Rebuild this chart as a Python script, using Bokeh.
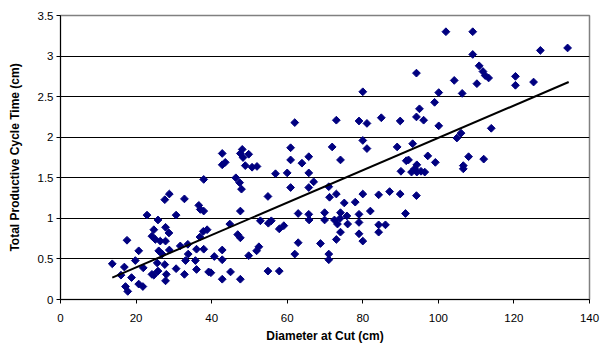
import math
from bokeh.plotting import figure
from bokeh.models import Range1d, FixedTicker, NumeralTickFormatter
from bokeh.embed import file_html
from bokeh.resources import INLINE

# Diameter at cut (cm)
diameter_cm = [
    13.7, 16.9, 17.6, 16.0, 17.2, 17.8, 18.8, 19.8, 20.7, 20.7, 21.8, 21.9,
    22.9, 24.2, 24.7, 25.8, 27.6, 28.8, 27.8, 28.7, 27.8, 26.4, 26.0, 26.9,
    28.8, 25.1, 25.6, 25.8, 27.6, 28.0, 27.8, 30.6, 30.6, 31.7, 24.2, 24.7,
    32.8, 33.7, 33.1, 32.8, 36.0, 35.7, 36.0, 37.9, 36.9, 37.8, 38.8, 37.9,
    36.6, 37.0, 37.9, 39.2, 39.8, 40.7, 33.8,
    42.8, 42.8, 43.6, 42.8, 42.8, 42.8, 44.8, 46.9, 47.6, 45.0, 47.6, 46.4,
    47.4, 47.9, 48.1, 47.6, 48.3, 49.8, 48.9, 50.7, 52.0, 47.6, 49.8, 51.9, 52.5,
    52.9, 54.9, 55.0, 55.8, 54.9, 57.9, 56.9, 57.9, 59.1, 60.0, 60.9, 60.9,
    60.9, 62.0, 62.9, 62.9, 62.0,
    63.9, 65.7, 65.7, 65.7, 67.0, 65.7, 65.8, 68.8, 69.9, 69.9, 71.0, 71.2,
    71.9, 71.0, 71.0,
    73.0, 74.1, 73.0, 75.1, 74.1, 72.5, 73.3, 74.0, 75.8, 76.0, 74.1, 73.0,
    78.0, 80.0, 79.0, 79.0, 79.0, 80.0, 82.0, 80.0, 79.0, 81.1, 80.0, 81.1,
    84.9, 89.9, 89.1, 90.1, 91.5, 84.2, 87.1, 89.9, 91.3, 84.2, 86.0, 84.2,
    102.0, 94.2, 100.1, 99.0, 95.0, 94.2, 96.1, 100.1, 93.2, 92.1, 94.3, 97.2,
    99.2, 92.9, 94.3, 95.4, 96.4, 93.7, 94.2,
    109.1, 109.1, 110.8, 111.8, 112.4, 113.3, 110.2, 104.2, 106.3, 106.0, 104.9,
    108.0, 106.6, 106.6, 112.0, 127.0, 134.2, 120.4, 120.4, 125.2, 114.0,
]

# Total productive cycle time (cm)
cycle_time = [
    0.44, 0.40, 0.73, 0.30, 0.16, 0.10, 0.27, 0.48, 0.60, 0.19, 0.16, 0.39,
    1.04, 0.78, 0.86, 0.98, 1.23, 1.30, 0.89, 0.82, 0.72, 0.72, 0.60, 0.56,
    0.61, 0.74, 0.45, 0.35, 0.43, 0.31, 0.23, 1.04, 0.38, 0.66, 0.31, 0.30,
    1.24, 0.68, 0.48, 0.31, 0.62, 0.48, 0.37, 0.62, 0.77, 0.84, 0.86, 1.48,
    1.16, 1.11, 1.09, 0.34, 0.33, 0.53, 0.56,
    1.80, 1.66, 1.69, 0.61, 0.49, 0.25, 0.93, 0.80, 0.76, 0.34, 0.25, 1.50,
    1.44, 1.36, 1.85, 1.80, 1.75, 1.79, 1.65, 1.63, 1.64, 1.09, 0.54, 0.60, 0.65,
    0.97, 1.27, 0.94, 0.97, 0.35, 0.35, 1.55, 0.87, 0.91, 1.56, 1.87, 1.72,
    1.38, 2.18, 1.06, 0.70, 0.56,
    1.68, 1.76, 1.56, 1.38, 1.45, 1.05, 0.98, 0.69, 1.07, 0.98, 1.39, 1.26,
    1.88, 0.56, 0.49,
    2.21, 1.72, 1.30, 1.19, 1.07, 0.98, 0.93, 1.00, 1.03, 0.93, 0.83, 0.74,
    1.20, 1.30, 1.05, 0.95, 0.81, 0.72, 1.09, 2.56, 2.20, 2.17, 1.96, 1.86,
    2.24, 2.20, 1.88, 1.58, 1.71, 1.29, 1.33, 1.30, 1.06, 0.92, 0.92, 0.83,
    3.30, 2.79, 2.55, 2.43, 2.35, 2.25, 2.21, 2.14, 1.92, 1.72, 1.66, 1.77,
    1.69, 1.57, 1.57, 1.58, 1.57, 1.61, 1.28,
    3.30, 3.02, 2.88, 2.81, 2.76, 2.73, 2.66, 2.70, 2.54, 2.05, 1.99,
    1.76, 1.65, 1.61, 1.73, 3.07, 3.10, 2.75, 2.64, 2.68, 2.11,
]

# Linear trend line end points
trend_x = [13.7, 134.5]
trend_y = [0.27, 2.68]

x_ticks = [0, 20, 40, 60, 80, 100, 120, 140]
y_ticks = [0, 0.5, 1, 1.5, 2, 2.5, 3, 3.5]

FONT = "Liberation Sans"

p = figure(width=600, height=347, output_backend="svg", toolbar_location=None,
           x_range=Range1d(0, 140), y_range=Range1d(0, 3.5),
           min_border_left=60, min_border_right=11, min_border_top=15,
           min_border_bottom=48)

p.background_fill_color = "white"
p.border_fill_color = "white"
p.outline_line_color = "#808080"
p.outline_line_width = 1.5

p.xgrid.visible = False
p.ygrid.ticker = FixedTicker(ticks=y_ticks)
p.ygrid.grid_line_color = "black"
p.ygrid.grid_line_width = 1

for ax in (p.xaxis[0], p.yaxis[0]):
    ax.axis_line_color = "black"
    ax.axis_line_width = 1
    ax.major_tick_line_color = "black"
    ax.major_tick_out = 4
    ax.major_tick_in = 0
    ax.minor_tick_line_color = None
    ax.major_label_text_font = FONT
    ax.major_label_text_font_size = "11.5px"
    ax.major_label_text_color = "black"
    ax.axis_label_text_font = FONT
    ax.axis_label_text_font_size = "12px"
    ax.axis_label_text_font_style = "bold"
    ax.axis_label_text_color = "black"

p.xaxis.ticker = FixedTicker(ticks=x_ticks)
p.yaxis.ticker = FixedTicker(ticks=y_ticks)
p.yaxis.formatter = NumeralTickFormatter(format="0.[0]")
p.xaxis.axis_label = "Diameter at Cut (cm)"
p.yaxis.axis_label = "Total Productive Cycle Time (cm)"
p.xaxis.major_label_standoff = 10
p.xaxis.axis_label_standoff = 4
p.yaxis.major_label_standoff = 3
p.yaxis.axis_label_standoff = 13

p.scatter(diameter_cm, cycle_time, marker="square", size=5.5, angle=math.pi / 4,
          fill_color="#000080", line_color="#000080", line_width=1)
p.line(trend_x, trend_y, line_color="black", line_width=2)

open("out.html", "w").write(file_html(p, INLINE))
